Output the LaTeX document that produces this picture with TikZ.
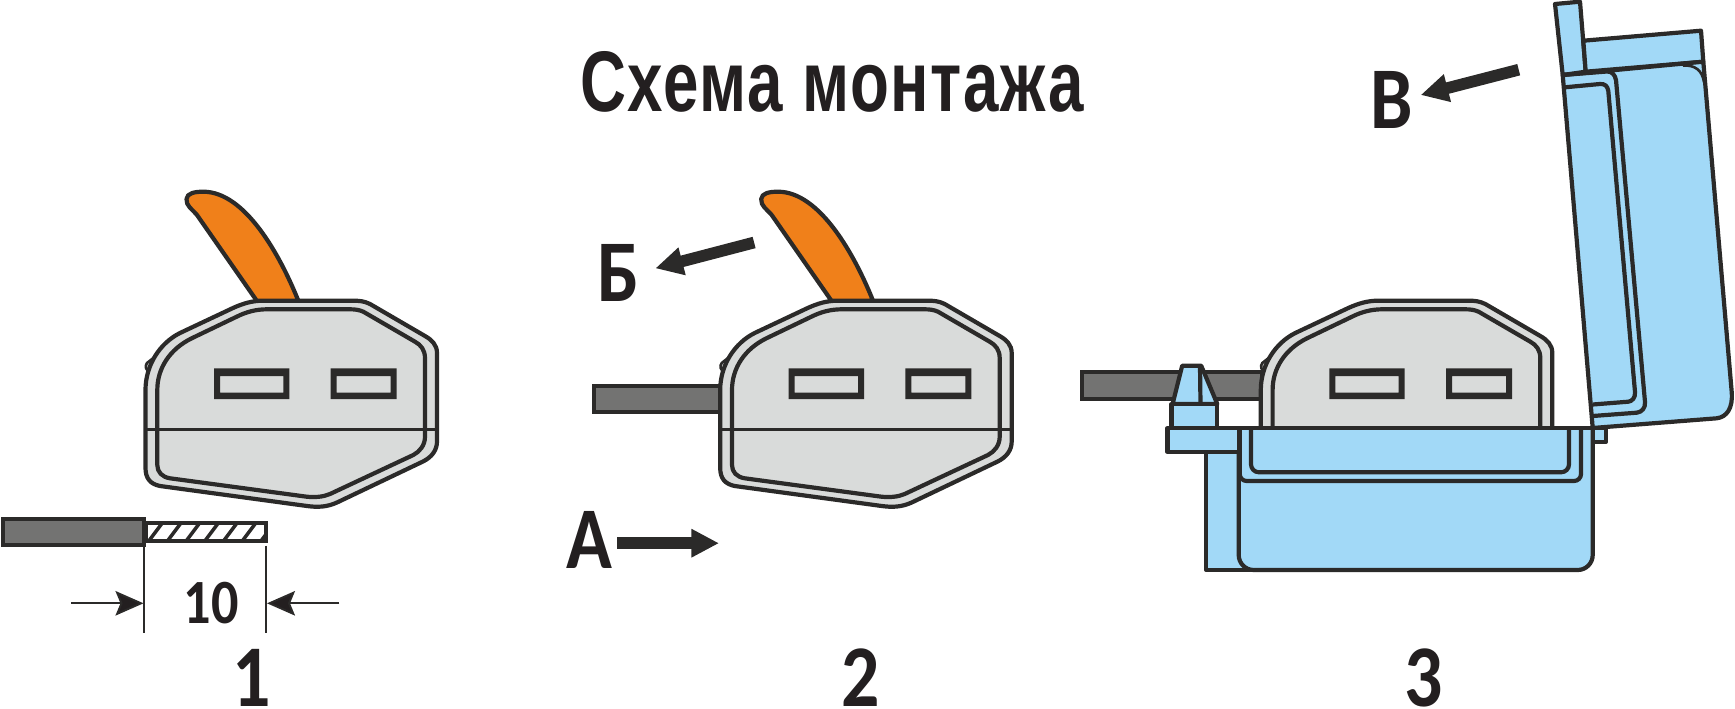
\documentclass[tikz,border=0pt]{standalone}
\usepackage{fontspec}
\setmainfont{Carlito}
\newfontfamily\titlefont[FakeStretch=0.74,LetterSpace=2]{Liberation Sans}
\newfontfamily\labelfont[FakeStretch=0.86]{Carlito}
\usetikzlibrary{arrows.meta}
\definecolor{ink}{HTML}{2B2A29}
\definecolor{txt}{HTML}{231F20}
\definecolor{body}{HTML}{D9DBDA}
\definecolor{lidblue}{HTML}{A2D9F7}
\definecolor{lever}{HTML}{F0801A}
\definecolor{wire}{HTML}{737372}
\tikzset{
  outl/.style={draw=ink,line width=4.2pt,line join=round},
  blue part/.style={outl,fill=lidblue},
  wire part/.style={draw=ink,line width=4pt,fill=wire,line join=miter},
  big label/.style={anchor=base,inner sep=0pt,text=txt,font=\labelfont\fontsize{88}{88}\bfseries},
  dim label/.style={anchor=base,inner sep=0pt,text=txt,font=\labelfont\fontsize{63}{63}\bfseries},
  dim line/.style={draw=ink,line width=1.9pt},
  dim arrow/.style={draw=ink,line width=1.9pt,-{Stealth[length=28pt,width=24.5pt,inset=5pt,fill=txt]}},
  big arrow/.style={draw=ink,line width=11.7pt,-{Triangle[length=27.6pt,width=26.7pt,fill=ink]}},
  conn/.pic={
    \draw[draw=ink,line width=2.6pt,fill=body] (155,356.7) -- (147,363) .. controls (144.5,366) and (146,371) .. (150,372) -- cycle;
    \draw[outl,fill=body] (145.5,390) -- (145.5,468) .. controls (145.5,478) and (150,484) .. (160,486) -- (307,506) .. controls (318,507.5) and (327,507) .. (337,502.5) -- (423,461.5) .. controls (432,457) and (437,450) .. (437,441.5) -- (437,353) .. controls (437,345) and (432,340) .. (425,336) -- (370,304) .. controls (364,301) and (359,300.7) .. (353,300.7) -- (263,300.7) .. controls (252,300.7) and (243,303.5) .. (233,308) -- (180,333) .. controls (160,343) and (145.5,365) .. (145.5,390) -- cycle;
    \draw[outl] (157.3,390) -- (157.3,465) .. controls (157.3,472) and (162,477) .. (170,478.3) -- (306.7,496.7) .. controls (315,497.5) and (323,497) .. (330,494) -- (413.3,455) .. controls (420,451.5) and (425,445) .. (425,436.7) -- (425,358.3) .. controls (425,350) and (421,345) .. (415,341.7) -- (363.3,311.7) .. controls (359,309.8) and (355,309.3) .. (350,309.3) -- (266.7,309.3) .. controls (256,309.3) and (246,312) .. (236.7,316.7) -- (191.7,338.3) .. controls (170,349) and (157.3,368) .. (157.3,390);
    \draw[draw=ink,line width=3.4pt] (145.5,429.3) -- (437,429.3);
    \fill[ink,even odd rule] (214,368.3) rectangle (289.3,399) (220,376) rectangle (283.3,392.7);
    \fill[ink,even odd rule] (330.7,368.3) rectangle (396.7,399) (336.7,376) rectangle (390.7,392.7);
  },
  leverpic/.pic={
    \draw[outl,fill=lever] (256.7,300.7) -- (197,215) .. controls (192,209) and (186,206) .. (186.5,199) .. controls (187,193) and (195,191.7) .. (203.3,191.7) .. controls (245,191.7) and (280,255) .. (298.3,300.7) -- cycle;
  }
}
\begin{document}
\begin{tikzpicture}[x=1pt,y=-1pt]
\useasboundingbox (0,0) rectangle (1735,709);
% title
\node[anchor=base,inner sep=0pt,text=txt,font=\titlefont\fontsize{86}{86}\bfseries] (title) at (832,111.5) {Схема монтажа};
% panel 1
\path (0,0) pic {conn} pic {leverpic};
\begin{scope}
\clip (147,522.7) rectangle (266.4,541);
\foreach \i in {-1,...,6} \draw[draw=ink,line width=3.5pt] ({148+18.7*\i},542) -- ({163+18.7*\i},522);
\end{scope}
\draw[draw=ink,line width=4pt] (146,522.7) rectangle (266.4,541);
\draw[wire part] (3,518.7) rectangle (144.4,545.3);
\coordinate (ext1a) at (144.3,540);
\coordinate (ext1b) at (144.3,632.7);
\coordinate (ext2a) at (266,545.7);
\coordinate (ext2b) at (266,632.7);
\draw[dim line] (ext1a) -- (ext1b);
\draw[dim line] (ext2a) -- (ext2b);
\coordinate (dl) at (71,603.3);
\coordinate (dlt) at (143.5,603.3);
\coordinate (dr) at (339.3,603.3);
\coordinate (drt) at (267,603.3);
\draw[dim arrow] (dl) -- (dlt);
\draw[dim arrow] (dr) -- (drt);
\node[dim label] (ten) at (211,623) {10};
\node[big label] (n1) at (252,706) {1};
% panel 2
\draw[wire part] (593.5,385.7) rectangle (722,412.3);
\path (574.7,0) pic {conn} pic {leverpic};
\node[big label] (b) at (619,301.5) {Б};
\coordinate (bs) at (754.1,242.5);
\coordinate (bt) at (655.4,268.3);
\draw[big arrow] (bs) -- (bt);
\node[big label] (a) at (589,568) {А};
\coordinate (as) at (617.3,543.2);
\coordinate (at2) at (719,543.2);
\draw[big arrow] (as) -- (at2);
\node[big label] (n2) at (861,706) {2};
% panel 3
\draw[wire part] (1082,372) rectangle (1262,399);
\path (1115.3,0) pic {conn};
% clamp
\draw[blue part] (1182.2,365.7) -- (1201.2,365.7) -- (1217.3,404) -- (1172.6,404) -- cycle;
\draw[outl] (1200,366) -- (1200.5,404);
\draw[blue part] (1171.5,404) rectangle (1217.3,428);
% small hinge tab
\draw[blue part] (1592.7,428) -- (1606,428) -- (1606,441.7) -- (1592.7,441.7) -- cycle;
% base
\draw[blue part] (1206.3,452) rectangle (1250,570);
\draw[blue part,rounded corners=15pt] (1238.7,428) -- (1238.7,570) -- (1592.7,570) -- (1592.7,428);
\draw[blue part] (1167.5,428) rectangle (1238.7,452);
\draw[outl,rounded corners=7pt] (1239.7,428) -- (1239.7,481) -- (1581,481) -- (1581,428);
\draw[outl,rounded corners=8pt] (1251,428) -- (1251,472.3) -- (1569,472.3) -- (1569,428);
\draw[outl] (1167.5,428) -- (1592.7,428);
% lid
\draw[blue part] (1555,4) -- (1580,1.7) -- (1585.7,71.7) -- (1562.7,75) -- cycle;
\draw[blue part] (1583.3,40.7) -- (1701,30.7) -- (1703.3,61.7) -- (1585.7,71.7) -- cycle;
\draw[blue part] (1562.7,75) -- (1703.3,61.7) -- (1731.7,392) .. controls (1733,408) and (1727,417) .. (1716.7,418.3) -- (1592.7,428) -- cycle;
\draw[outl,line width=2.6pt] (1683,65.5) .. controls (1695,65) and (1702,70) .. (1704,82);
\draw[outl] (1562.7,75) -- (1607,71.5) .. controls (1612,71.2) and (1615,75) .. (1616,80) -- (1645,402) .. controls (1645.5,408) and (1642,412) .. (1636.7,412.7) -- (1592.7,416);
\draw[outl] (1565,87.3) -- (1600,84) .. controls (1605,83.7) and (1607.5,86) .. (1608.3,91) -- (1635,392) .. controls (1635.5,398) and (1632,401.2) .. (1628.3,401.7) -- (1592.7,404.5);
\node[big label] (v) at (1392,128.3) {В};
\coordinate (vs) at (1518.7,69.7);
\coordinate (vt) at (1420.7,95);
\draw[big arrow] (vs) -- (vt);
\node[big label] (n3) at (1424,706) {3};
\end{tikzpicture}
\end{document}
